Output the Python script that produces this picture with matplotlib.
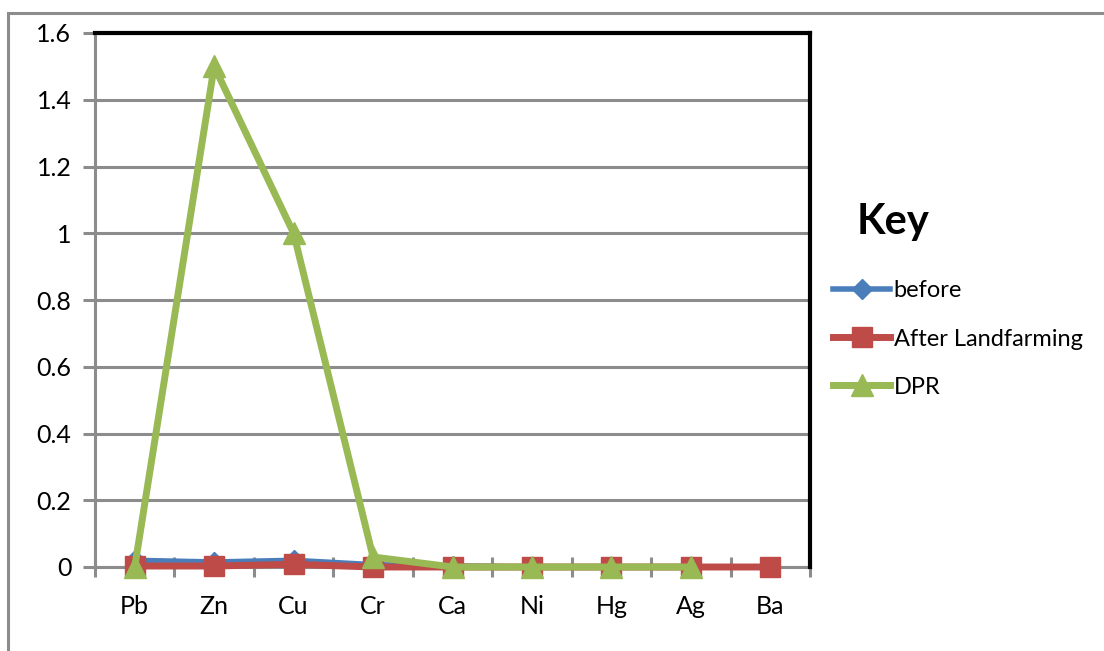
import matplotlib
matplotlib.use("Agg")
import matplotlib.pyplot as plt
from matplotlib.lines import Line2D
from matplotlib.patches import Rectangle
import numpy as np

categories = ["Pb", "Zn", "Cu", "Cr", "Ca", "Ni", "Hg", "Ag", "Ba"]
before = [0.02, 0.015, 0.02, 0.007, 0.003, 0.0, 0.0, 0.0, 0.0]
after_landfarming = [0.003, 0.003, 0.008, 0.0, 0.0, 0.0, 0.0, 0.0, 0.0]
dpr = [0.0, 1.5, 1.0, 0.03, 0.0, 0.0, 0.0, 0.0, np.nan]
yticks = [0, 0.2, 0.4, 0.6, 0.8, 1, 1.2, 1.4, 1.6]
ytick_labels = ["0", "0.2", "0.4", "0.6", "0.8", "1", "1.2", "1.4", "1.6"]

plt.rcParams['font.family'] = ['Lato', 'DejaVu Sans']

W, H = 1104, 651
fig = plt.figure(figsize=(W / 100, H / 100), dpi=100)

# outer chart frame (cropped at right/bottom)
fig.patches.append(Rectangle((8 / W, -0.05), 1.2, (651 - 13) / H + 0.05,
                             transform=fig.transFigure, fill=False,
                             edgecolor="#8c8c8c", linewidth=2.2))

ax = fig.add_axes([95 / W, (651 - 567) / H, (810 - 95) / W, (567 - 33) / H])
x = np.arange(len(categories))

blue = "#4a7ebb"
red = "#be4b48"
green = "#98b954"

ax.plot(x, before, color=blue, lw=4, marker="D", ms=10, zorder=3, clip_on=False)
ax.plot(x, after_landfarming, color=red, lw=5, marker="s", ms=15, zorder=4, clip_on=False)
ax.plot(x, dpr, color=green, lw=5, marker="^", ms=16, zorder=5, clip_on=False)

ax.set_xlim(-0.5, len(categories) - 0.5)
ax.set_ylim(0, 1.6)
ax.set_yticks(yticks)
ax.set_yticklabels(ytick_labels, fontsize=18)
ax.grid(axis="y", color="#8c8c8c", lw=2.2, zorder=0)
ax.set_axisbelow(True)

ax.set_xticks(x)
ax.set_xticklabels(categories, fontsize=18)
ax.tick_params(axis="x", length=0, pad=20)
ax.set_xticks(np.arange(-0.5, len(categories), 1), minor=True)
ax.tick_params(axis="x", which="minor", length=14, direction="inout", width=2.2, color="#8c8c8c")
ax.tick_params(axis="y", length=9, width=2.2, color="#8c8c8c", pad=8)

for s in ["left", "bottom"]:
    ax.spines[s].set_color("#8c8c8c")
    ax.spines[s].set_linewidth(2.2)
for s in ["top", "right"]:
    ax.spines[s].set_color("black")
    ax.spines[s].set_linewidth(3)
ax.spines["bottom"].set_zorder(2)

handles = [
    Line2D([], [], color=blue, lw=4, marker="D", ms=10),
    Line2D([], [], color=red, lw=5, marker="s", ms=15),
    Line2D([], [], color=green, lw=5, marker="^", ms=16),
]
leg = fig.legend(handles, ["before", "After Landfarming", "DPR"],
                 loc="upper left", bbox_to_anchor=(824 / W, 1 - 271 / H),
                 frameon=False, fontsize=17, handlelength=2.4,
                 handletextpad=0.15, labelspacing=1.15, borderaxespad=0)
fig.text(893 / W, 1 - 222 / H, "Key", fontsize=30, fontweight="bold",
         ha="center", va="center")

fig.savefig("out.png", dpi=100)
